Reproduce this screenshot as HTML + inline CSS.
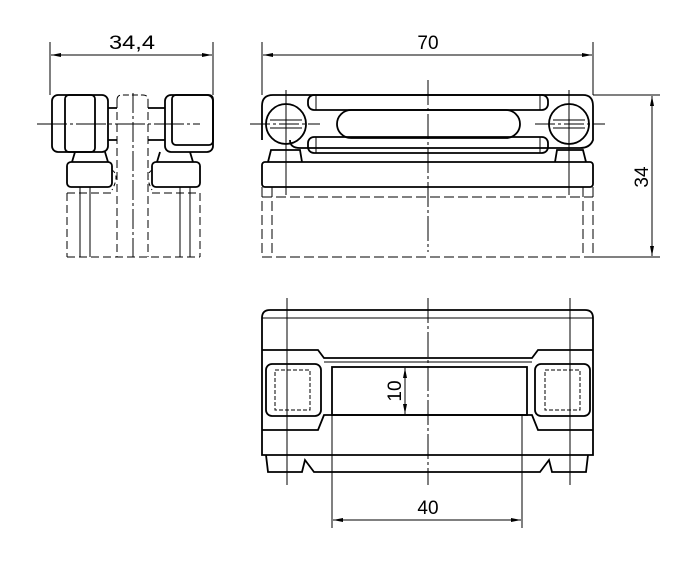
<!DOCTYPE html>
<html><head><meta charset="utf-8"><style>body{margin:0;background:#fff}svg{display:block}text{font-family:"Liberation Sans",sans-serif;font-size:19px;fill:#000}</style></head><body>
<svg width="697" height="567" viewBox="0 0 697 567" xmlns="http://www.w3.org/2000/svg">
<defs><marker id="a" viewBox="0 0 10 4" refX="10" refY="2" markerWidth="12" markerHeight="4" orient="auto-start-reverse" markerUnits="userSpaceOnUse"><path d="M0,0L10,2L0,4z" fill="#000"/></marker></defs>
<g stroke="#000" fill="none" stroke-width="1">
<!-- Side view -->
<line x1="50" y1="42" x2="50" y2="95"/><line x1="213" y1="42" x2="213" y2="95"/>
<line x1="51" y1="55" x2="212" y2="55" marker-start="url(#a)" marker-end="url(#a)"/>
<g stroke-width="1.8">
<rect x="52" y="95" width="56" height="57" rx="6"/><rect x="65" y="95" width="30" height="57" rx="4"/>
<rect x="165" y="95" width="48" height="57" rx="6"/><rect x="172" y="95" width="41" height="50" rx="4"/>
<path d="M108 108H117M108 140H117M148 108H165M148 140H165"/>
<path d="M75 152L72 162M105 152L108 162M160 152L157 162M190 152L193 162"/>
<rect x="67" y="162" width="45" height="25" rx="4"/><rect x="152" y="162" width="48" height="25" rx="4"/>
</g>
<path d="M117 100Q117 95 122 95H143Q148 95 148 100" stroke-dasharray="6,3"/>
<path d="M117 100V257M148 100V257M67 193V257M200 193V257M67 257H200M67 193H115M152 193H200" stroke-dasharray="8,4"/>
<path d="M112 170Q120 175 112 190M152 170Q144 175 152 190" stroke-dasharray="4,3"/>
<line x1="133" y1="93" x2="133" y2="257" stroke-dasharray="20,3,3,3"/>
<line x1="37" y1="124" x2="200" y2="124" stroke-dasharray="30,3,3,3"/>
<path d="M90 187V257M180 187V257M80 187V257M190 187V257"/>
<!-- Front view -->
<line x1="262" y1="42" x2="262" y2="95"/><line x1="593" y1="42" x2="593" y2="95"/>
<line x1="263" y1="55" x2="592" y2="55" marker-start="url(#a)" marker-end="url(#a)"/>
<line x1="593" y1="95" x2="660" y2="95"/><line x1="593" y1="257" x2="660" y2="257"/>
<line x1="652" y1="96" x2="652" y2="256" marker-start="url(#a)" marker-end="url(#a)"/>
<g stroke-width="1.8">
<path d="M262 140V106Q262 95 273 95H583Q593 95 593 106V140Q590 148 580 148H300Q290 148 290 140"/>
<circle cx="286" cy="124" r="20"/><circle cx="569" cy="124" r="20"/>
<rect x="308" y="95" width="240" height="15" rx="6"/><rect x="308" y="137" width="240" height="16" rx="6"/>
<rect x="337" y="110" width="183" height="28" rx="14"/>
<path d="M268 162L271 150H300L302 162M555 162L557 150H583L586 162"/>
<rect x="262" y="162" width="331" height="25" rx="3"/>
</g>
<path d="M316 95V110M316 137V153M540 95V110M540 137V153"/>
<path d="M270 120H302M270 128H302M553 120H585M553 128H585"/>
<path d="M262 187V257M272 187V257M583 187V257M593 187V257M262 257H593M262 197H593" stroke-dasharray="10,4"/>
<line x1="428" y1="80" x2="428" y2="252" stroke-dasharray="25,3,3,3"/>
<line x1="286" y1="90" x2="286" y2="195"/><line x1="569" y1="90" x2="569" y2="195"/>
<line x1="250" y1="124" x2="320" y2="124" stroke-dasharray="20,3,3,3"/><line x1="535" y1="124" x2="605" y2="124" stroke-dasharray="20,3,3,3"/>
<!-- Bottom view -->
<g stroke-width="1.8">
<path d="M262 430V318Q262 310 270 310H585Q593 310 593 318V430"/>
<path d="M262 350H318L324 358H532L538 350H593"/>
<path d="M262 430H318L324 415H532L538 430H593"/>
<path d="M262 430V455H593V430"/>
<path d="M266 455L268 472H302L305 460L314 472H540L549 460L552 472H586L588 455"/>
<rect x="332" y="367" width="195" height="48"/>
<rect x="266" y="364" width="55" height="52" rx="6"/><rect x="535" y="364" width="55" height="52" rx="6"/>
</g>
<path d="M324 362H532M262 318H593"/>
<rect x="275" y="370" width="35" height="40" stroke-dasharray="4,2"/><rect x="545" y="370" width="35" height="40" stroke-dasharray="4,2"/>
<line x1="428" y1="298" x2="428" y2="485" stroke-dasharray="25,3,3,3"/>
<line x1="287" y1="298" x2="287" y2="485"/><line x1="570" y1="298" x2="570" y2="485"/>
<line x1="405" y1="368" x2="405" y2="414" marker-start="url(#a)" marker-end="url(#a)"/>
<line x1="332" y1="415" x2="332" y2="528"/><line x1="522" y1="415" x2="522" y2="528"/>
<line x1="333" y1="520" x2="521" y2="520" marker-start="url(#a)" marker-end="url(#a)"/>
</g>
<text x="132" y="49" text-anchor="middle" textLength="46" lengthAdjust="spacingAndGlyphs">34,4</text>
<text x="428" y="49" text-anchor="middle">70</text>
<text transform="translate(648,177) rotate(-90)" text-anchor="middle">34</text>
<text transform="translate(401,391) rotate(-90)" text-anchor="middle">10</text>
<text x="428" y="514" text-anchor="middle">40</text>
</svg>
</body></html>
